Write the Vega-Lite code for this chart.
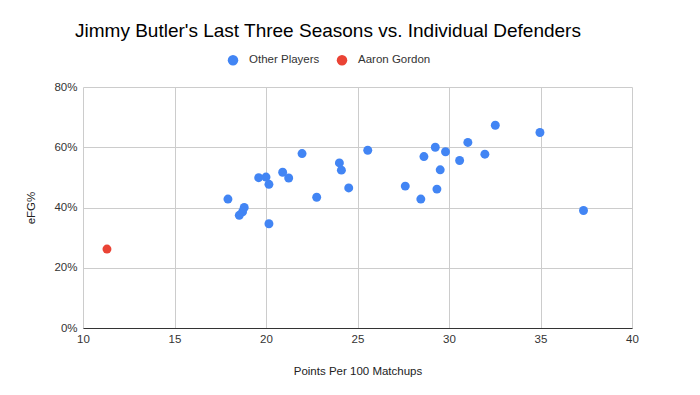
{
  "$schema": "https://vega.github.io/schema/vega-lite/v6.json",
  "autosize": "none",
  "width": 549,
  "height": 241,
  "padding": {"left": 83, "top": 87, "right": 68, "bottom": 67},
  "background": "white",
  "title": {
    "text": "Jimmy Butler's Last Three Seasons vs. Individual Defenders",
    "anchor": "start",
    "frame": "group",
    "dx": -8,
    "offset": 13,
    "font": "Liberation Sans",
    "fontSize": 19,
    "fontWeight": "normal",
    "color": "#000000"
  },
  "data": {
    "values": [
      {"pts": 21.97, "efg": 0.579, "player": "Other Players"},
      {"pts": 25.56, "efg": 0.590, "player": "Other Players"},
      {"pts": 24.01, "efg": 0.548, "player": "Other Players"},
      {"pts": 24.12, "efg": 0.524, "player": "Other Players"},
      {"pts": 20.91, "efg": 0.517, "player": "Other Players"},
      {"pts": 21.24, "efg": 0.498, "player": "Other Players"},
      {"pts": 19.60, "efg": 0.499, "player": "Other Players"},
      {"pts": 20.00, "efg": 0.501, "player": "Other Players"},
      {"pts": 20.16, "efg": 0.477, "player": "Other Players"},
      {"pts": 24.52, "efg": 0.465, "player": "Other Players"},
      {"pts": 22.77, "efg": 0.434, "player": "Other Players"},
      {"pts": 17.92, "efg": 0.428, "player": "Other Players"},
      {"pts": 18.81, "efg": 0.400, "player": "Other Players"},
      {"pts": 18.72, "efg": 0.386, "player": "Other Players"},
      {"pts": 18.54, "efg": 0.374, "player": "Other Players"},
      {"pts": 20.16, "efg": 0.346, "player": "Other Players"},
      {"pts": 32.53, "efg": 0.673, "player": "Other Players"},
      {"pts": 34.97, "efg": 0.649, "player": "Other Players"},
      {"pts": 31.03, "efg": 0.616, "player": "Other Players"},
      {"pts": 29.25, "efg": 0.600, "player": "Other Players"},
      {"pts": 29.81, "efg": 0.585, "player": "Other Players"},
      {"pts": 28.63, "efg": 0.569, "player": "Other Players"},
      {"pts": 31.96, "efg": 0.577, "player": "Other Players"},
      {"pts": 30.58, "efg": 0.556, "player": "Other Players"},
      {"pts": 29.52, "efg": 0.525, "player": "Other Players"},
      {"pts": 27.61, "efg": 0.471, "player": "Other Players"},
      {"pts": 29.34, "efg": 0.461, "player": "Other Players"},
      {"pts": 28.46, "efg": 0.428, "player": "Other Players"},
      {"pts": 37.35, "efg": 0.390, "player": "Other Players"},
      {"pts": 11.31, "efg": 0.262, "player": "Aaron Gordon"}
    ]
  },
  "mark": {"type": "point", "filled": true, "opacity": 1, "size": 80},
  "encoding": {
    "x": {
      "field": "pts",
      "type": "quantitative",
      "scale": {"domain": [10, 40], "nice": false, "zero": false},
      "axis": {
        "title": "Points Per 100 Matchups",
        "values": [10, 15, 20, 25, 30, 35, 40],
        "grid": true,
        "gridColor": "#cccccc",
        "ticks": false,
        "domain": true,
        "domainColor": "#333333",
        "labelFlush": false,
        "labelFont": "Liberation Sans",
        "labelFontSize": 11.5,
        "labelColor": "#333333",
        "labelPadding": 5,
        "titleFont": "Liberation Sans",
        "titleFontSize": 11.5,
        "titleFontWeight": "normal",
        "titleColor": "#222222",
        "titlePadding": 21
      }
    },
    "y": {
      "field": "efg",
      "type": "quantitative",
      "scale": {"domain": [0, 0.8], "nice": false},
      "axis": {
        "title": "eFG%",
        "format": ".0%",
        "values": [0, 0.2, 0.4, 0.6, 0.8],
        "grid": true,
        "gridColor": "#cccccc",
        "ticks": false,
        "domain": false,
        "labelFont": "Liberation Sans",
        "labelFontSize": 11.5,
        "labelColor": "#333333",
        "labelPadding": 6,
        "titleFont": "Liberation Sans",
        "titleFontSize": 11.5,
        "titleFontWeight": "normal",
        "titleColor": "#222222",
        "titlePadding": 17
      }
    },
    "color": {
      "field": "player",
      "type": "nominal",
      "scale": {"domain": ["Other Players", "Aaron Gordon"], "range": ["#4285F4", "#EA4335"]},
      "legend": {
        "title": null,
        "orient": "none",
        "direction": "horizontal",
        "legendX": 144,
        "legendY": -33,
        "symbolType": "circle",
        "symbolSize": 110,
        "labelOffset": 10,
        "labelFont": "Liberation Sans",
        "labelFontSize": 11.5,
        "labelColor": "#333333",
        "columnPadding": 16
      }
    }
  },
  "config": {"view": {"stroke": null}}
}
